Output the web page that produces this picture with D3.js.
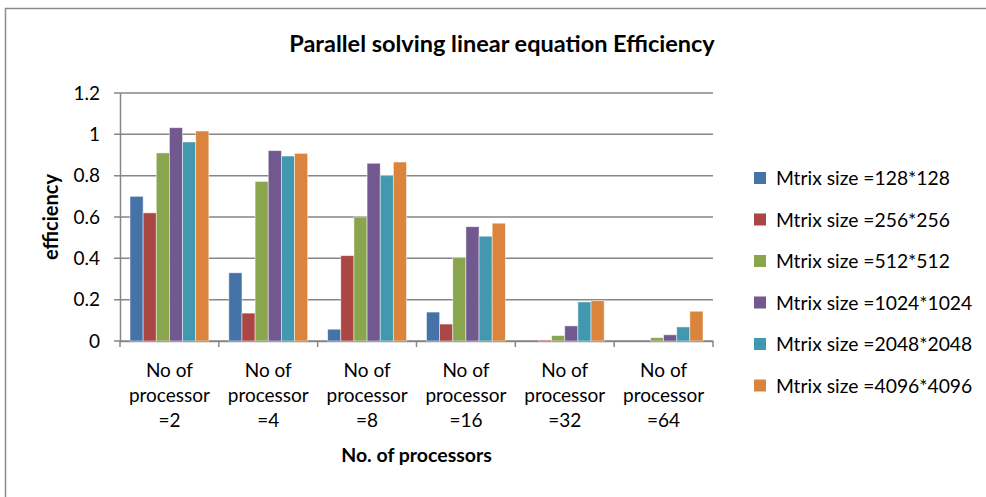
<!DOCTYPE html>
<html>
<head>
<meta charset="utf-8">
<script src="https://cdn.jsdelivr.net/npm/d3@7"></script>
<style>
  body { margin: 0; background: #fff; }
  svg { display: block; font-family: Lato, "Open Sans", sans-serif; }
</style>
</head>
<body>
<div id="chart"></div>
<script>
/* DATA */
const categories = ["No of\nprocessor\n=2", "No of\nprocessor\n=4", "No of\nprocessor\n=8",
  "No of\nprocessor\n=16", "No of\nprocessor\n=32", "No of\nprocessor\n=64"];
const seriesNames = ["Mtrix size =128*128", "Mtrix size =256*256", "Mtrix size =512*512",
  "Mtrix size =1024*1024", "Mtrix size =2048*2048", "Mtrix size =4096*4096"];
const size128 = [0.70, 0.33, 0.057, 0.14, 0, 0];
const size256 = [0.62, 0.135, 0.413, 0.082, 0.005, 0];
const size512 = [0.91, 0.772, 0.60, 0.405, 0.026, 0.016];
const size1024 = [1.032, 0.921, 0.86, 0.553, 0.073, 0.03];
const size2048 = [0.963, 0.895, 0.80, 0.507, 0.189, 0.068];
const size4096 = [1.016, 0.908, 0.866, 0.57, 0.195, 0.144];
const seriesValues = [size128, size256, size512, size1024, size2048, size4096];
const colors = ["#4572A7", "#AA4643", "#89A54E", "#71588F", "#4198AF", "#DB843D"];
const yTicks = [0, 0.2, 0.4, 0.6, 0.8, 1, 1.2];

const width = 986, height = 497,
  margin = { top: 93, bottom: 156, left: 120, right: 273 };

const svg = d3.select("#chart").append("svg")
  .attr("width", width)
  .attr("height", height);

// outer chart border (cropped at right/bottom)
svg.append("rect")
  .attr("x", 5.5).attr("y", 8.5)
  .attr("width", 1000).attr("height", 1000)
  .attr("fill", "none")
  .attr("stroke", "#8c8c8c")
  .attr("stroke-width", 1.5);

/* SCALES */
const x0 = d3.scaleBand()
  .domain(categories)
  .range([margin.left, width - margin.right]);

const x1 = d3.scaleBand()
  .domain(seriesNames)
  .range([10, x0.bandwidth() - 10]);

const y = d3.scaleLinear()
  .domain([0, 1.2])
  .range([height - margin.bottom, margin.top]);

// gridlines
svg.append("g")
  .selectAll("line")
  .data(yTicks)
  .join("line")
  .attr("x1", margin.left - 6)
  .attr("x2", width - margin.right)
  .attr("y1", d => y(d))
  .attr("y2", d => y(d))
  .attr("stroke", "#868686")
  .attr("stroke-width", 1.5);

// y axis
const yAxis = svg.append("g")
  .attr("transform", `translate(${margin.left},0)`)
  .call(d3.axisLeft(y).tickValues(yTicks).tickSize(0).tickPadding(20).tickFormat(d => d3.format("")(d)));
yAxis.select(".domain").attr("stroke", "#868686").attr("stroke-width", 1.5);
yAxis.selectAll("text").attr("font-size", 19).attr("fill", "#000").attr("font-family", "Lato, sans-serif");

// x axis
const xAxis = svg.append("g")
  .attr("transform", `translate(0,${y(0)})`)
  .call(d3.axisBottom(x0).tickSize(0).tickFormat(""));
xAxis.select(".domain").attr("stroke", "#868686").attr("stroke-width", 1.5);

// category boundary ticks
svg.append("g")
  .selectAll("line")
  .data(categories.concat(["end"]))
  .join("line")
  .attr("x1", (d, i) => i < categories.length ? x0(d) : x0.range()[1])
  .attr("x2", (d, i) => i < categories.length ? x0(d) : x0.range()[1])
  .attr("y1", y(0))
  .attr("y2", y(0) + 6)
  .attr("stroke", "#868686")
  .attr("stroke-width", 1.5);

// category labels
const catLabels = svg.append("g")
  .selectAll("text")
  .data(categories)
  .join("text")
  .attr("x", d => x0(d) + x0.bandwidth() / 2)
  .attr("y", y(0) + 36)
  .attr("text-anchor", "middle")
  .attr("font-size", 19);
catLabels.selectAll("tspan")
  .data(d => d.split("\n").map(t => ({ t, c: d })))
  .join("tspan")
  .attr("x", d => x0(d.c) + x0.bandwidth() / 2)
  .attr("dy", (d, i) => i === 0 ? 0 : 25)
  .text(d => d.t);

// bars
svg.append("g")
  .selectAll("g")
  .data(seriesNames)
  .join("g")
  .attr("fill", (d, i) => colors[i])
  .selectAll("rect")
  .data((s, si) => categories.map((c, ci) => ({ c, s, v: seriesValues[si][ci] })))
  .join("rect")
  .attr("x", d => x0(d.c) + x1(d.s))
  .attr("width", x1.bandwidth())
  .attr("y", d => y(d.v))
  .attr("height", d => y(0) - y(d.v))
  .attr("stroke", d => d.v > 0 ? "#ffffff" : "none")
  .attr("stroke-opacity", 0.6)
  .attr("stroke-width", 0.8);

// title
svg.append("text")
  .attr("x", 502)
  .attr("y", 52)
  .attr("text-anchor", "middle")
  .attr("font-size", 23.5)
  .attr("font-weight", "bold")
  .text("Parallel solving linear equation Efficiency");

// axis titles
svg.append("text")
  .attr("x", (margin.left + width - margin.right) / 2)
  .attr("y", 462)
  .attr("text-anchor", "middle")
  .attr("font-size", 19.5)
  .attr("font-weight", "bold")
  .text("No. of processors");

svg.append("text")
  .attr("transform", `translate(58,${(y(0) + y(1.2)) / 2}) rotate(-90)`)
  .attr("text-anchor", "middle")
  .attr("font-size", 20)
  .attr("font-weight", "bold")
  .text("efficiency");

// legend
const legend = svg.append("g")
  .selectAll("g")
  .data(seriesNames)
  .join("g")
  .attr("transform", (d, i) => `translate(754,${178 + i * 41.5})`);
legend.append("rect")
  .attr("x", 0).attr("y", -6)
  .attr("width", 12).attr("height", 12)
  .attr("fill", (d, i) => colors[i]);
legend.append("text")
  .attr("x", 22)
  .attr("y", 7)
  .attr("font-size", 19.3)
  .text(d => d);
</script>
</body>
</html>
